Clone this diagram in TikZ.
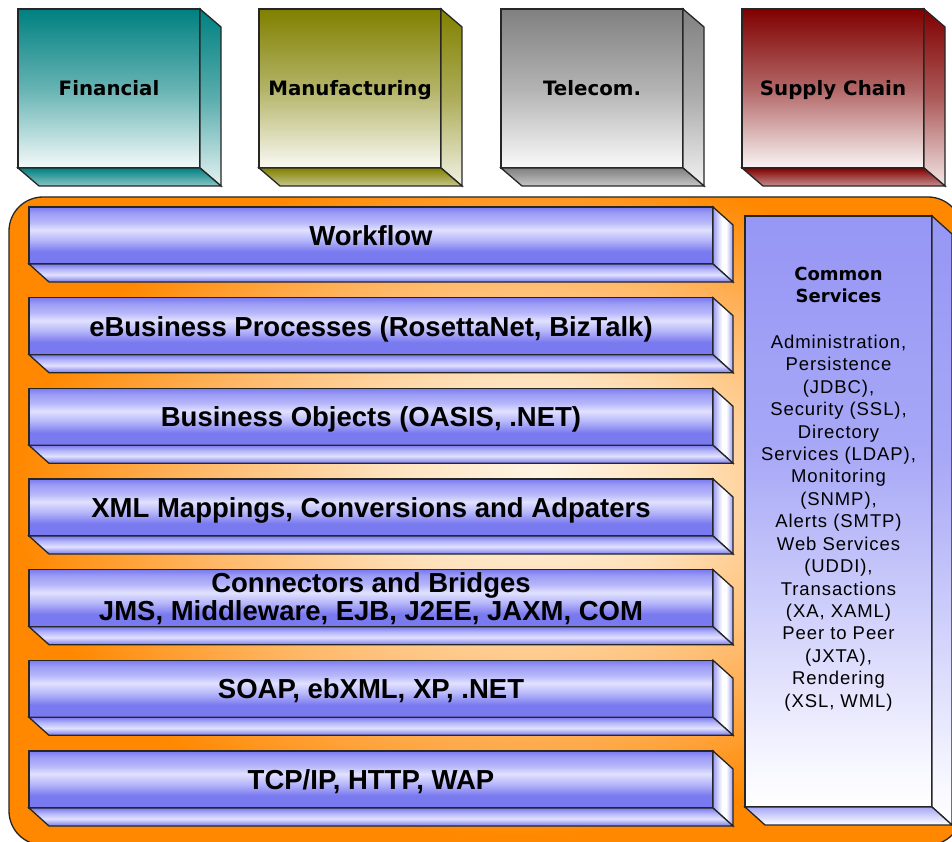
\documentclass[tikz,border=0pt]{standalone}
\usepackage{fontspec}
\setmainfont{Liberation Sans}
\newfontfamily\dvs{DejaVu Sans}
\newfontfamily\csfont{Liberation Sans}[LetterSpace=5]
\usetikzlibrary{calc}

\definecolor{orng}{RGB}{255,136,0}
\definecolor{glowA}{RGB}{255,244,228}
\definecolor{glowB}{RGB}{255,226,188}
\definecolor{glowC}{RGB}{255,184,104}
\definecolor{pwA}{RGB}{122,122,240}
\definecolor{pwB}{RGB}{155,155,245}
\definecolor{pwL}{RGB}{225,225,255}
\definecolor{pwM}{RGB}{182,182,250}
\definecolor{colTop}{RGB}{150,150,245}
\definecolor{colMid}{RGB}{168,168,247}
\definecolor{colLow}{RGB}{212,212,252}
\definecolor{colBot}{RGB}{246,246,255}
\definecolor{cTeal}{RGB}{0,128,128}
\definecolor{cOlive}{RGB}{128,128,0}
\definecolor{cGray}{RGB}{128,128,128}
\definecolor{cRed}{RGB}{128,0,0}

\pgfdeclareradialshading{shGlow}{\pgfpoint{3bp}{3.5bp}}{color(0bp)=(glowA); color(8bp)=(glowB); color(17bp)=(glowC); color(26bp)=(orng); color(50bp)=(orng)}
\pgfdeclareverticalshading{shBarFront}{100bp}{color(0bp)=(pwA); color(25bp)=(pwA); color(36bp)=(pwA); color(46bp)=(pwM); color(55bp)=(pwL); color(62bp)=(pwM); color(70bp)=(pwB); color(75bp)=(pwA); color(100bp)=(pwA)}
\pgfdeclareverticalshading{shBarBottom}{100bp}{color(0bp)=(pwA); color(25bp)=(pwA); color(45bp)=(pwL); color(60bp)=(pwM); color(75bp)=(pwA); color(100bp)=(pwA)}
\pgfdeclarehorizontalshading{shBarRight}{100bp}{color(0bp)=(pwB); color(25bp)=(pwB); color(48bp)=(white); color(58bp)=(white); color(75bp)=(pwB); color(100bp)=(pwB)}
\pgfdeclareverticalshading{shCol}{100bp}{color(0bp)=(white); color(25bp)=(white); color(29bp)=(colBot); color(40bp)=(colLow); color(55bp)=(colMid); color(75bp)=(colTop); color(100bp)=(colTop)}

\newcommand\topcube[4]{%
  \node[topfront, top color=#3, bottom color=#3!4!white, middle color=#3!60!white] (#1) at (#2,88.5) {#4};
  \path[outl, top color=#3, bottom color=#3!10!white, middle color=#3!65!white] (#1.north east) -- ++(21,18) -- ++(0,159) -- (#1.south east) -- cycle;
  \path[outl, top color=#3, bottom color=#3!45!white] (#1.south west) -- (#1.south east) -- ++(21,18) -- ++(-182,0) -- cycle;
}
\newcommand\layerbar[4]{%
  \node[#3] (#1) at (371,#2+28.5) {#4};
  \path[outl, shade, shading=shBarRight] (#1.north east) -- ++(20,18) -- ++(0,57) -- (#1.south east) -- cycle;
  \path[outl, shade, shading=shBarBottom] (#1.south west) -- (#1.south east) -- ++(20,18) -- ++(-684,0) -- cycle;
}

\begin{document}
\begin{tikzpicture}[x=1pt,y=-1pt,
  outl/.style={draw=black!85, line width=1.3pt},
  frontbase/.style={outl, inner sep=0pt, outer sep=0pt},
  topfront/.style={frontbase, minimum width=182pt, minimum height=159pt, font=\dvs\bfseries\fontsize{19.8pt}{23pt}\selectfont, text height=14.4pt, text depth=0pt},
  barbase/.style={frontbase, shade, shading=shBarFront, minimum width=684pt, minimum height=57pt, font=\bfseries\fontsize{27.5pt}{28pt}\selectfont},
  barone/.style={barbase, text height=19.7pt, text depth=0pt},
  bartwo/.style={barbase, align=center},
]
\useasboundingbox (0,0) rectangle (952,842);
\clip (0,0) rectangle (952,842);
\fill[white] (0,0) rectangle (952,842);

\topcube{fin}{109}{cTeal}{Financial}
\topcube{man}{350}{cOlive}{Manufacturing}
\topcube{tel}{592}{cGray}{Telecom.}
\topcube{sup}{833}{cRed}{Supply Chain}

\path[draw=black!85, line width=1.3pt, rounded corners=34pt, shade, shading=shGlow] (9,197) rectangle (962,845);

\layerbar{wf}{207}{barone}{Workflow}
\layerbar{eb}{297.7}{barone}{eBusiness Processes (RosettaNet, BizTalk)}
\layerbar{bo}{388.3}{barone}{Business Objects (OASIS, .NET)}
\layerbar{xml}{479}{barone}{XML Mappings, Conversions and Adpaters}
\layerbar{cb}{569.7}{bartwo}{Connectors and Bridges\\JMS, Middleware, EJB, J2EE, JAXM, COM}
\layerbar{soap}{660.3}{barone}{SOAP, ebXML, XP, .NET}
\layerbar{tcp}{751}{barone}{TCP/IP, HTTP, WAP}

\node[frontbase, shade, shading=shCol, minimum width=187pt, minimum height=591pt] (cs) at (838.5,511.5) {};
\path[outl, shade, shading=shCol] (cs.north east) -- ++(20,18) -- ++(0,591) -- (cs.south east) -- cycle;
\path[outl, top color=colMid, bottom color=white] (cs.south west) -- (cs.south east) -- ++(20,18) -- ++(-187,0) -- cycle;

\node[font=\dvs\bfseries\fontsize{18pt}{22pt}\selectfont, align=center] (cst) at (838.5,285) {Common\\Services};
\node[font=\csfont\fontsize{18.5pt}{22.44pt}\selectfont, align=center] (csb) at (838.5,523) {Administration,\\Persistence\\(JDBC),\\Security (SSL),\\Directory\\Services (LDAP),\\Monitoring\\(SNMP),\\Alerts (SMTP)\\Web Services\\(UDDI),\\Transactions\\(XA, XAML)\\Peer to Peer\\(JXTA),\\Rendering\\(XSL, WML)};
\end{tikzpicture}
\end{document}
